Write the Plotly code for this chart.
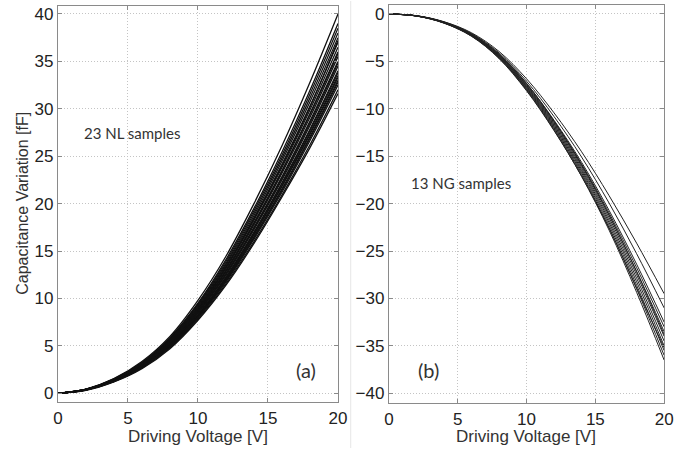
import plotly.graph_objects as go

voltage = [0, 2, 4, 6, 8, 10, 12, 14, 16, 18, 20]

# (a) 23 NL samples, capacitance variation [fF]
nl_samples = [
    [0, 0.45, 1.55, 3.35, 6.0, 9.8, 14.45, 20.0, 26.1, 32.8, 40.0],
    [0, 0.43, 1.52, 3.25, 5.85, 9.5, 14.1, 19.5, 25.45, 31.95, 39.0],
    [0, 0.42, 1.5, 3.2, 5.77, 9.4, 13.9, 19.25, 25.1, 31.55, 38.5],
    [0, 0.42, 1.48, 3.17, 5.7, 9.3, 13.7, 19.0, 24.8, 31.15, 38.0],
    [0, 0.41, 1.46, 3.13, 5.62, 9.17, 13.55, 18.75, 24.5, 30.75, 37.5],
    [0, 0.41, 1.44, 3.08, 5.55, 9.05, 13.36, 18.5, 24.15, 30.3, 37.0],
    [0, 0.38, 1.47, 3.0, 5.6, 8.9, 13.3, 18.4, 24.0, 30.2, 37.2],
    [0, 0.4, 1.42, 3.04, 5.48, 8.92, 13.18, 18.25, 23.8, 29.9, 36.5],
    [0, 0.4, 1.4, 3.0, 5.4, 8.8, 13.0, 18.0, 23.5, 29.5, 36.0],
    [0, 0.35, 1.45, 3.1, 5.3, 8.7, 12.9, 17.9, 23.4, 29.4, 35.8],
    [0, 0.39, 1.38, 2.96, 5.32, 8.68, 12.82, 17.75, 23.2, 29.1, 35.5],
    [0, 0.39, 1.36, 2.92, 5.25, 8.55, 12.64, 17.5, 22.85, 28.7, 35.0],
    [0, 0.42, 1.3, 2.8, 5.1, 8.5, 12.6, 17.4, 22.7, 28.5, 34.8],
    [0, 0.38, 1.34, 2.88, 5.17, 8.43, 12.45, 17.25, 22.5, 28.25, 34.5],
    [0, 0.38, 1.32, 2.83, 5.1, 8.3, 12.27, 17.0, 22.2, 27.85, 34.0],
    [0, 0.33, 1.35, 2.9, 5.0, 8.25, 12.2, 16.9, 22.1, 27.7, 33.8],
    [0, 0.37, 1.3, 2.79, 5.03, 8.19, 12.1, 16.75, 21.9, 27.45, 33.5],
    [0, 0.4, 1.27, 2.7, 5.05, 8.1, 12.0, 16.7, 21.8, 27.3, 33.3],
    [0, 0.37, 1.28, 2.75, 4.95, 8.07, 11.92, 16.5, 21.55, 27.05, 33.0],
    [0, 0.34, 1.25, 2.8, 4.9, 8.0, 11.85, 16.4, 21.4, 26.9, 32.8],
    [0, 0.36, 1.26, 2.71, 4.88, 7.95, 11.74, 16.25, 21.2, 26.65, 32.5],
    [0, 0.36, 1.24, 2.67, 4.8, 7.82, 11.56, 16.0, 20.9, 26.2, 32.0],
    [0, 0.3, 1.2, 2.6, 4.7, 7.7, 11.4, 15.8, 20.7, 25.9, 31.6],
]

# (b) 13 NG samples, capacitance variation [fF]
ng_samples = [
    [0, -0.18, -0.81, -1.98, -3.95, -6.83, -10.43, -14.53, -19.16, -24.17, -29.5],
    [0, -0.18, -0.84, -2.05, -4.1, -7.09, -10.82, -15.09, -19.94, -25.28, -31.0],
    [0, -0.19, -0.87, -2.12, -4.25, -7.34, -11.21, -15.64, -20.72, -26.39, -32.5],
    [0, -0.2, -0.88, -2.15, -4.3, -7.43, -11.34, -15.83, -20.98, -26.76, -33.0],
    [0, -0.2, -0.89, -2.18, -4.35, -7.52, -11.47, -16.02, -21.24, -27.13, -33.5],
    [0, -0.2, -0.9, -2.2, -4.4, -7.6, -11.6, -16.2, -21.5, -27.5, -34.0],
    [0, -0.2, -0.91, -2.23, -4.45, -7.69, -11.73, -16.39, -21.76, -27.87, -34.5],
    [0, -0.21, -0.92, -2.25, -4.5, -7.77, -11.86, -16.57, -22.02, -28.24, -35.0],
    [0, -0.21, -0.93, -2.28, -4.55, -7.86, -11.99, -16.76, -22.28, -28.61, -35.5],
    [0, -0.21, -0.94, -2.3, -4.6, -7.94, -12.12, -16.94, -22.54, -28.98, -36.0],
    [0, -0.21, -0.95, -2.33, -4.65, -8.03, -12.25, -17.13, -22.8, -29.35, -36.5],
    [0, -0.22, -0.97, -2.35, -4.7, -8.1, -12.3, -17.1, -22.6, -28.9, -35.2],
    [0, -0.19, -0.86, -2.1, -4.2, -7.3, -11.3, -15.9, -21.2, -27.2, -33.8],
]

x_ticks = [0, 5, 10, 15, 20]
nl_y_ticks = [0, 5, 10, 15, 20, 25, 30, 35, 40]
ng_y_ticks = [0, -5, -10, -15, -20, -25, -30, -35, -40]

fig = go.Figure()
for s in nl_samples:
    fig.add_trace(go.Scatter(x=voltage, y=s, mode="lines", line=dict(color="#111111", width=1.3, shape="spline"),
                             xaxis="x", yaxis="y", showlegend=False, hoverinfo="skip"))
for s in ng_samples:
    fig.add_trace(go.Scatter(x=voltage, y=s, mode="lines", line=dict(color="#222222", width=1.0, shape="spline"),
                             xaxis="x2", yaxis="y2", showlegend=False, hoverinfo="skip"))

tick_font = dict(family="Liberation Sans, Arial, sans-serif", size=17, color="#222222")
ax_common = dict(showline=True, mirror="ticks", linecolor="#8a8a8a", linewidth=1.2,
                 ticks="inside", ticklen=4, tickcolor="#8a8a8a",
                 showgrid=True, gridcolor="#c4c4c4", griddash="1px,2px", gridwidth=1,
                 zeroline=False, tickfont=tick_font, fixedrange=True)

W, H = 680, 449
xt_font = dict(family="Liberation Sans, Arial, sans-serif", size=17, color="#333333")
yt_font = dict(family="Liberation Sans, Arial, sans-serif", size=16, color="#333333")
note_font = dict(family="Lato, Noto Sans, sans-serif", size=15, color="#333333")
tag_font = dict(family="Lato, Noto Sans, sans-serif", size=20, color="#333333")

fig.update_layout(
    width=W, height=H,
    margin=dict(l=0, r=0, t=0, b=0),
    paper_bgcolor="white", plot_bgcolor="white",
    xaxis=dict(domain=[54 / W, 340 / W], range=[0, 20], tickvals=x_ticks, anchor="y", **ax_common),
    yaxis=dict(domain=[1 - 403 / H, 1 - 5 / H], range=[-0.94, 40.84], tickvals=nl_y_ticks, anchor="x", **ax_common),
    xaxis2=dict(domain=[392 / W, 673 / W], range=[0, 20], tickvals=x_ticks, anchor="y2", **ax_common),
    yaxis2=dict(domain=[1 - 404 / H, 1 - 4 / H], range=[-41.05, 0.95], tickvals=ng_y_ticks, anchor="x2", **ax_common),
    annotations=[
        dict(text="Driving Voltage [V]", x=197 / W, y=1 - 437 / H, xref="paper", yref="paper",
             showarrow=False, font=xt_font, xanchor="center", yanchor="middle"),
        dict(text="Driving Voltage [V]", x=532 / W, y=1 - 437 / H, xref="paper", yref="paper",
             showarrow=False, font=xt_font, xanchor="center", yanchor="middle"),
        dict(text="Capacitance Variation [fF]", x=17 / W, y=1 - 203 / H, xref="paper", yref="paper",
             showarrow=False, font=yt_font, textangle=-90, xanchor="center", yanchor="middle"),
        dict(text="23 NL samples", x=5.3, y=27.4, xref="x", yref="y", showarrow=False, font=note_font),
        dict(text="(a)", x=17.75, y=2.5, xref="x", yref="y", showarrow=False, font=tag_font),
        dict(text="13 NG samples", x=5.27, y=-17.85, xref="x2", yref="y2", showarrow=False, font=note_font),
        dict(text="(b)", x=2.85, y=-37.5, xref="x2", yref="y2", showarrow=False, font=tag_font),
    ],
    shapes=[dict(type="line", xref="paper", yref="paper", x0=353 / W, x1=353 / W, y0=0, y1=1,
                 line=dict(color="#e6e6e6", width=1))],
)

fig.write_html("out.html", config={"displayModeBar": False},
               post_script="document.body.style.margin='0px';document.body.style.overflow='hidden';")
